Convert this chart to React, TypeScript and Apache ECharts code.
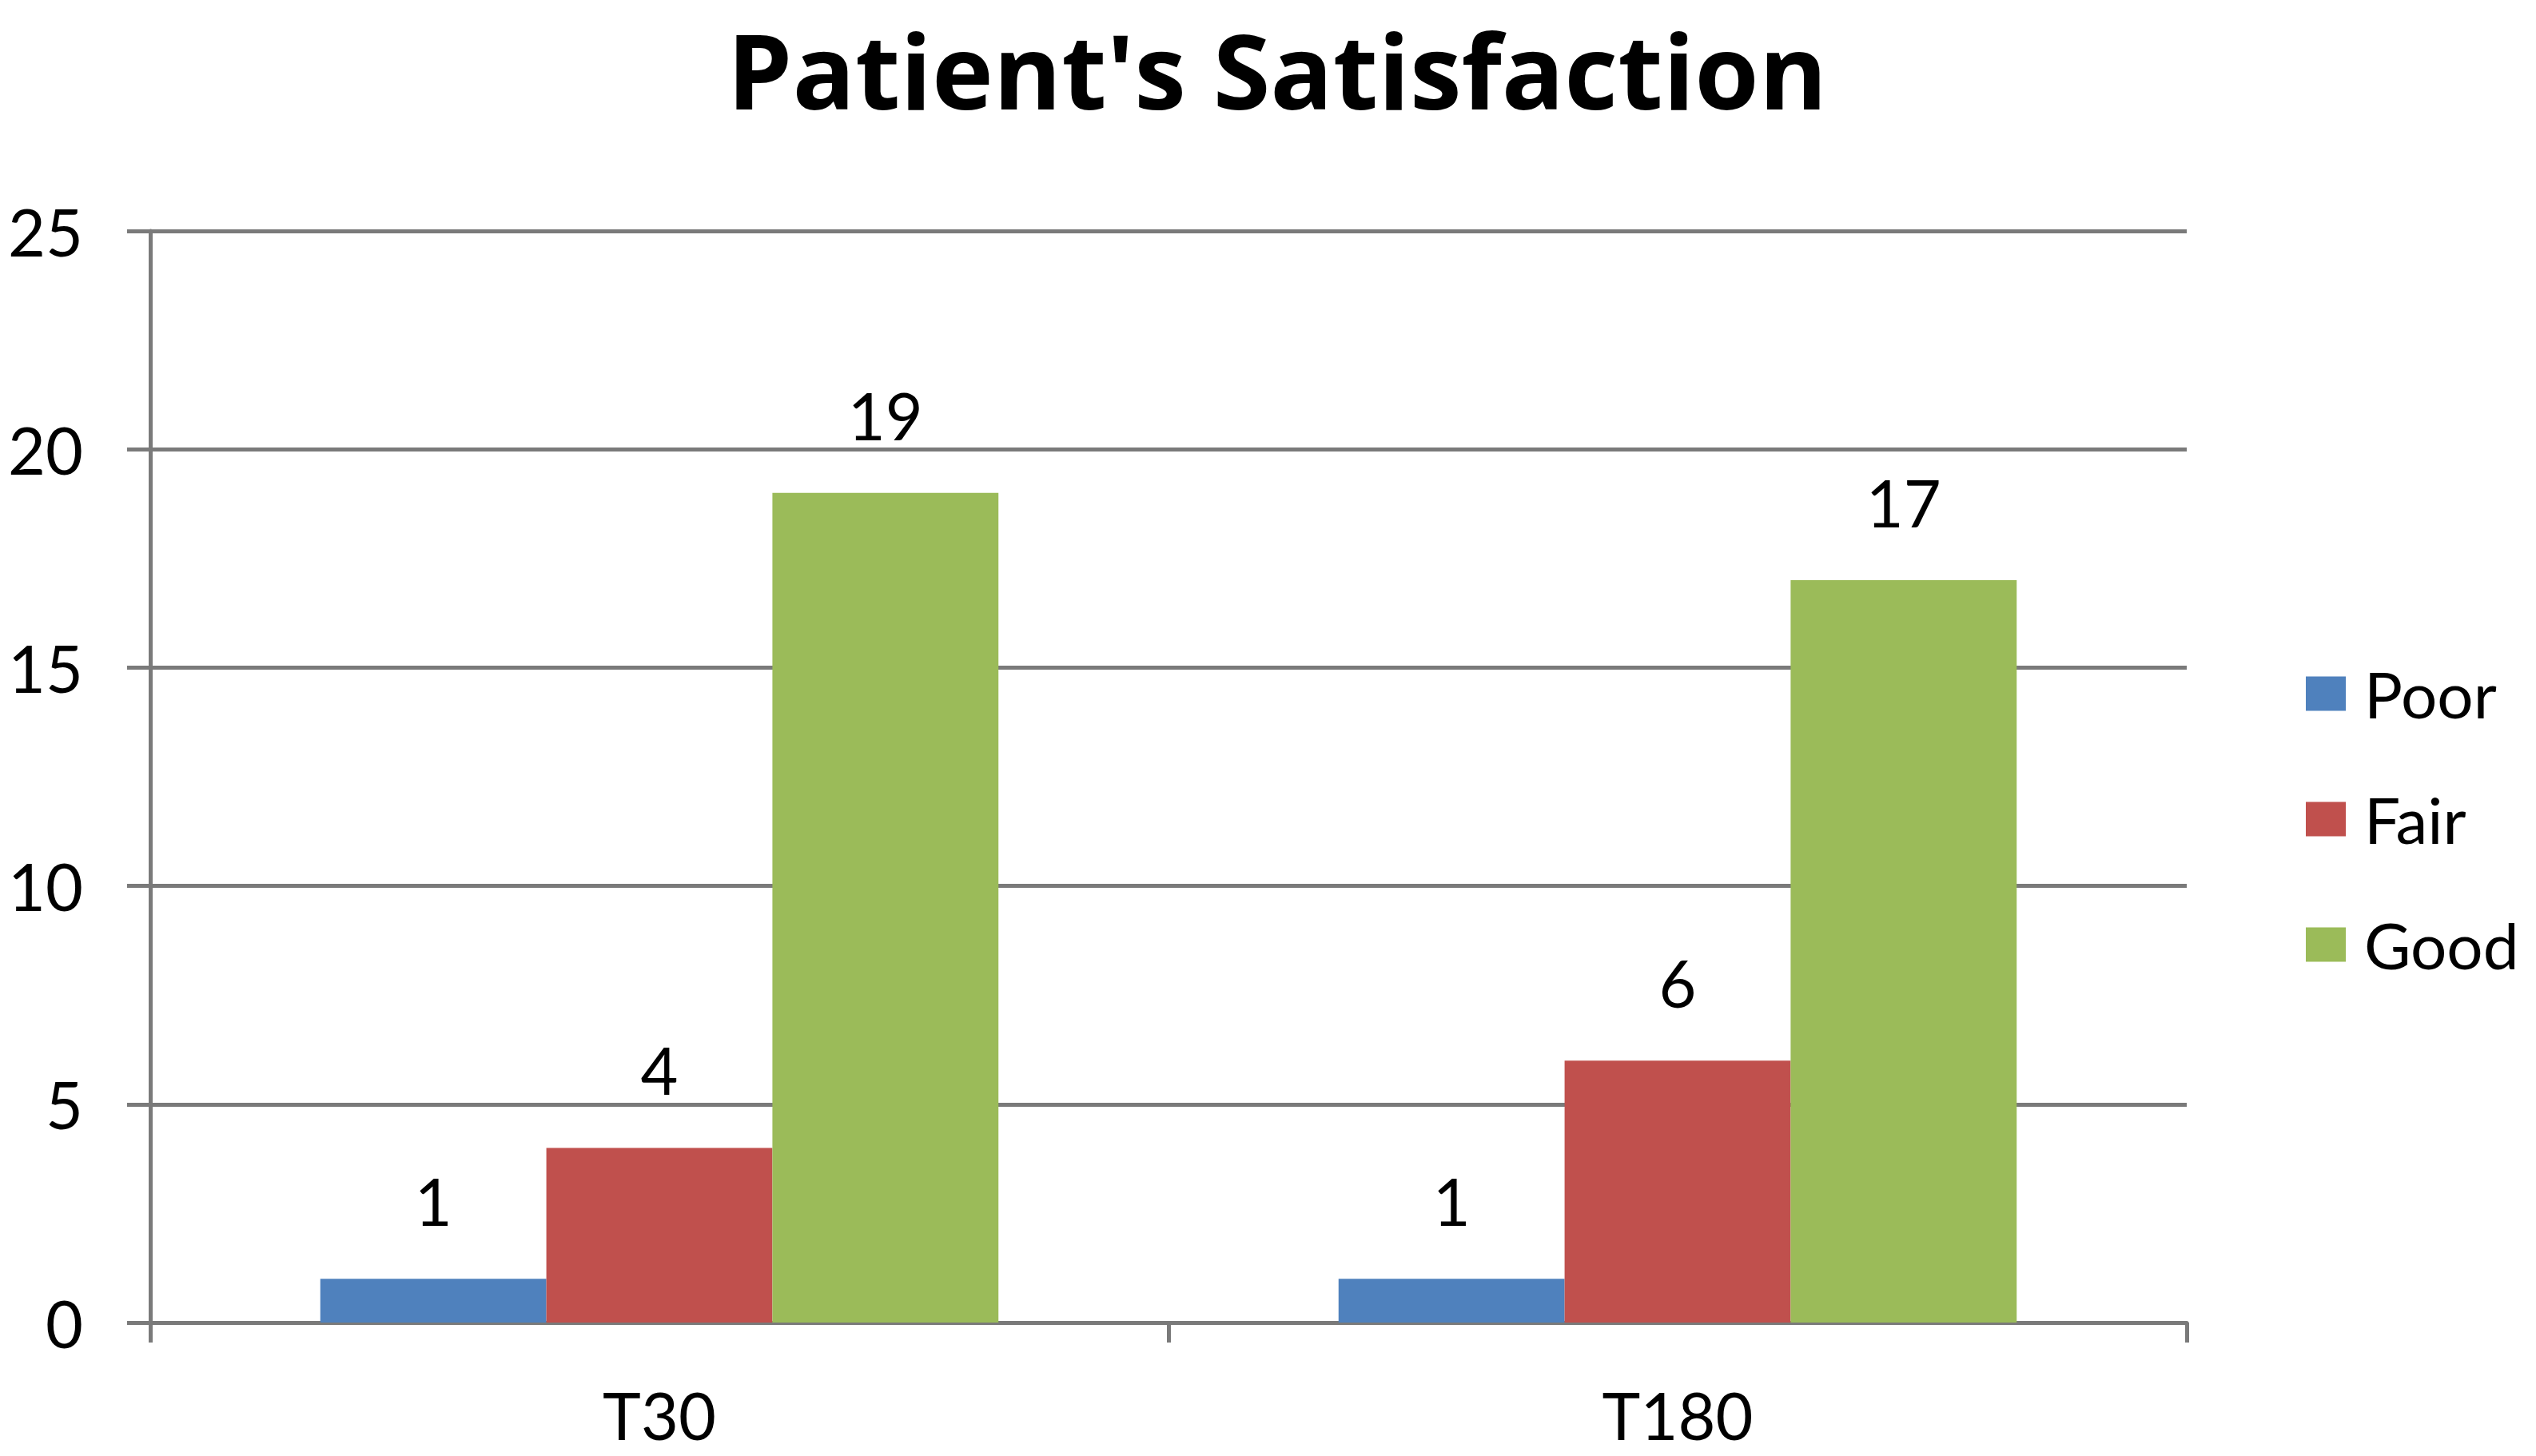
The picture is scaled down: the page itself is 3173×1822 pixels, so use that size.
import React, { useEffect, useRef } from "react";
import * as echarts from "echarts";

const titleText = "Patient's Satisfaction";
const categories = ["T30", "T180"];
const seriesNames = ["Poor", "Fair", "Good"];
const poorValues = [1, 1];
const fairValues = [4, 6];
const goodValues = [19, 17];
const seriesColors = ["#4F81BD", "#C0504D", "#9BBB59"];
const yMin = 0;
const yMax = 25;
const yInterval = 5;

const W = 3173;
const H = 1822;
const GRID_COLOR = "#7a7a7a";
const FONT = "Lato";

export default function App() {
  const ref = useRef<HTMLDivElement>(null);
  useEffect(() => {
    document.body.style.margin = "0";
    if (!ref.current) return;
    const chart = echarts.init(ref.current, undefined, { renderer: "svg" });
    const values = [poorValues, fairValues, goodValues];
    const labelStyle = {
      show: true,
      position: "top",
      distance: 57,
      fontSize: 81,
      fontFamily: FONT,
      color: "#000",
    };
    chart.setOption({
      animation: false,
      backgroundColor: "#ffffff",
      textStyle: { fontFamily: FONT },
      graphic: [
        {
          type: "text",
          x: 1598,
          y: 86,
          style: {
            text: titleText,
            fontSize: 130,
            fontWeight: "bold",
            fontFamily: "Open Sans",
            fill: "#000",
            align: "center",
            verticalAlign: "middle",
          },
        },
      ],
      grid: {
        left: 188,
        right: W - 2736,
        top: 289,
        bottom: H - 1655,
        containLabel: false,
      },
      legend: {
        orient: "vertical",
        left: 2880,
        top: 823,
        itemWidth: 50,
        itemHeight: 43,
        itemGap: 77,
        icon: "rect",
        data: seriesNames,
        textStyle: {
          fontSize: 80,
          fontFamily: FONT,
          color: "#000",
          padding: [0, 0, 0, 18],
        },
      },
      xAxis: {
        type: "category",
        data: categories,
        axisLine: { show: true, lineStyle: { color: GRID_COLOR, width: 5 } },
        axisTick: {
          show: true,
          alignWithLabel: false,
          interval: 0,
          length: 25,
          lineStyle: { color: GRID_COLOR, width: 5 },
        },
        axisLabel: {
          margin: 75,
          fontSize: 81,
          fontFamily: FONT,
          color: "#000",
        },
        splitLine: { show: false },
      },
      yAxis: {
        type: "value",
        min: yMin,
        max: yMax,
        interval: yInterval,
        axisLine: { show: true, lineStyle: { color: GRID_COLOR, width: 5 } },
        axisTick: {
          show: true,
          length: 29,
          lineStyle: { color: GRID_COLOR, width: 5 },
        },
        axisLabel: {
          margin: 84,
          fontSize: 81,
          fontFamily: FONT,
          color: "#000",
        },
        splitLine: { show: true, lineStyle: { color: GRID_COLOR, width: 5 } },
      },
      series: seriesNames.map((name, i) => ({
        name,
        type: "bar",
        data: values[i],
        barGap: "0%",
        barCategoryGap: "33.4%",
        itemStyle: { color: seriesColors[i] },
        label: labelStyle,
        z: 3,
      })),
    });
    return () => chart.dispose();
  }, []);
  return <div ref={ref} style={{ width: W, height: H }} />;
}
